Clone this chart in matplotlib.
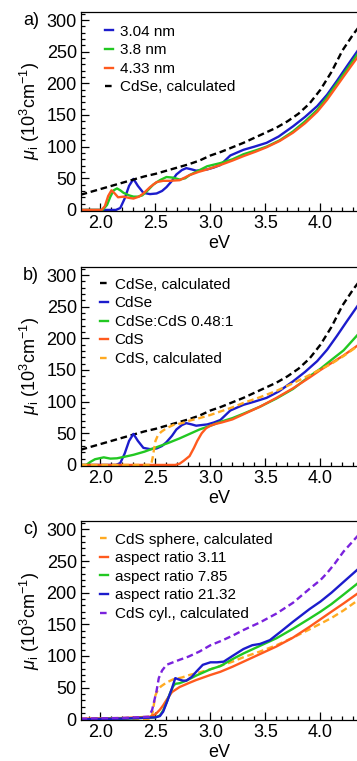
import numpy as np
import matplotlib
matplotlib.use('Agg')
import matplotlib.pyplot as plt
from matplotlib.ticker import MultipleLocator

plt.rcParams['font.family'] = ['Liberation Sans', 'DejaVu Sans']
plt.rcParams['mathtext.fontset'] = 'custom'
plt.rcParams['mathtext.rm'] = 'Liberation Sans'
plt.rcParams['mathtext.it'] = 'Liberation Sans:italic'

# --- data (eV, 10^3 cm^-1) ---
# CdSe calculated (panels a and b)
cdse_calc_x = [1.82, 1.9, 2.0, 2.1, 2.2, 2.3, 2.4, 2.5, 2.6, 2.7, 2.8, 2.9, 3.0, 3.1, 3.2, 3.3, 3.4,
               3.5, 3.6, 3.7, 3.8, 3.9, 4.0, 4.1, 4.2, 4.3, 4.34]
cdse_calc_y = [24, 28, 33, 38, 43, 48, 53, 57, 62, 67, 72, 78, 86, 92, 99, 106, 114,
               122, 130, 140, 152, 168, 190, 218, 252, 278, 287]

# 3.04 nm / CdSe (blue, panels a and b)
blue_x = [1.82, 2.14, 2.18, 2.22, 2.26, 2.30, 2.34, 2.39, 2.45, 2.51, 2.56, 2.60, 2.65, 2.69, 2.74,
          2.78, 2.83, 2.87, 2.92, 2.97, 3.03, 3.09, 3.18, 3.30, 3.40, 3.51, 3.62, 3.75, 3.86, 3.97,
          4.06, 4.15, 4.24, 4.34]
blue_y = [0, 0, 3, 18, 38, 49, 38, 27, 25, 26, 30, 36, 46, 56, 63,
          66, 64, 62, 63, 64, 67, 71, 86, 95, 100, 106, 116, 132, 147, 164,
          182, 204, 227, 252]

# 3.8 nm (green, panel a)
green_a_x = [1.82, 2.02, 2.06, 2.09, 2.12, 2.15, 2.18, 2.21, 2.26, 2.30, 2.34, 2.38, 2.43, 2.48,
             2.54, 2.60, 2.66, 2.72, 2.77, 2.81, 2.89, 2.97, 3.09, 3.2, 3.30, 3.41, 3.51, 3.63,
             3.75, 3.86, 3.97, 4.06, 4.15, 4.24, 4.34]
green_a_y = [0, 0, 8, 21, 31, 34, 31, 27, 23, 21, 21, 23, 31, 40,
             47, 52, 51, 48, 50, 55, 62, 69, 74, 80, 88, 94, 100, 110,
             124, 140, 158, 178, 200, 222, 247]

# 4.33 nm (orange, panel a)
orange_a_x = [1.82, 2.01, 2.04, 2.07, 2.10, 2.13, 2.16, 2.21, 2.26, 2.30, 2.35, 2.39, 2.45, 2.51,
              2.57, 2.63, 2.72, 2.81, 2.89, 2.97, 3.09, 3.2, 3.30, 3.41, 3.51, 3.63, 3.75, 3.86,
              3.97, 4.06, 4.15, 4.24, 4.34]
orange_a_y = [0, 0, 6, 22, 31, 26, 20, 21, 19, 18, 21, 26, 36, 44,
              46, 46, 47, 55, 60, 64, 71, 78, 85, 92, 99, 109, 122, 137,
              155, 174, 196, 218, 242]

# CdSe:CdS 0.48:1 (green, panel b)
mix_x = [1.82, 1.87, 1.91, 1.95, 2.03, 2.09, 2.15, 2.22, 2.30, 2.40, 2.51, 2.62, 2.72, 2.81, 2.90,
         3.0, 3.09, 3.2, 3.3, 3.45, 3.6, 3.75, 3.9, 4.0, 4.1, 4.21, 4.34]
mix_y = [0, 0, 5, 9, 12, 10, 10.5, 13, 16, 21, 28, 35, 42, 49, 56,
         62, 68, 74, 81, 92, 105, 120, 140, 152, 166, 181, 206]

# CdS (orange, panel b)
cds_x = [1.82, 2.68, 2.72, 2.76, 2.81, 2.85, 2.88, 2.92, 2.96, 3.0, 3.05, 3.1, 3.2, 3.3, 3.45,
         3.6, 3.75, 3.9, 4.0, 4.1, 4.21, 4.34]
cds_y = [0, 0, 2, 7, 14, 27, 38, 50, 58, 62, 65, 67, 72, 80, 92,
         106, 121, 138, 150, 161, 173, 189]

# CdS calculated / CdS sphere calculated (orange dashed, panels b and c)
cds_calc_x = [1.82, 2.46, 2.475, 2.49, 2.50, 2.52, 2.55, 2.60, 2.66, 2.74, 2.81, 2.9, 3.0, 3.1,
              3.2, 3.3, 3.45, 3.6, 3.75, 3.9, 4.0, 4.1, 4.21, 4.34]
cds_calc_y = [0, 0, 12, 28, 38, 46, 52, 58, 63, 66, 70, 74, 79, 85,
              91, 98, 107, 117, 129, 142, 151, 160, 172, 188]

# aspect ratio 3.11 (orange, panel c)
ar311_x = [1.82, 2.2, 2.45, 2.50, 2.54, 2.57, 2.61, 2.65, 2.72, 2.80, 2.87, 3.0, 3.09, 3.2, 3.3,
           3.45, 3.6, 3.75, 3.9, 4.0, 4.1, 4.21, 4.34]
ar311_y = [1, 2, 4, 8, 15, 22, 33, 43, 51, 57, 62, 70, 75, 83, 91,
           103, 115, 129, 146, 158, 170, 183, 199]

# aspect ratio 7.85 (green, panel c)
ar785_x = [1.82, 2.2, 2.50, 2.54, 2.57, 2.60, 2.63, 2.66, 2.68, 2.72, 2.78, 2.87, 3.0, 3.09, 3.2,
           3.3, 3.45, 3.6, 3.75, 3.9, 4.0, 4.1, 4.21, 4.34]
ar785_y = [0, 1, 3, 6, 14, 26, 40, 52, 56, 57, 61, 69, 79, 84, 95,
           104, 116, 128, 143, 159, 170, 182, 197, 215]

# aspect ratio 21.32 (blue, panel c)
ar2132_x = [1.82, 2.2, 2.50, 2.54, 2.57, 2.61, 2.65, 2.68, 2.71, 2.75, 2.78, 2.83, 2.87, 2.93, 3.0,
            3.06, 3.12, 3.2, 3.3, 3.38, 3.45, 3.54, 3.65, 3.75, 3.9, 4.0, 4.1, 4.21, 4.34]
ar2132_y = [0, 1, 3, 5, 12, 30, 49, 65, 63, 61, 61, 67, 75, 86, 90,
            90, 91, 100, 111, 117, 119, 125, 140, 154, 174, 186, 200, 217, 237]

# CdS cyl. calculated (purple dashed, panel c)
cyl_x = [1.82, 2.2, 2.44, 2.47, 2.49, 2.51, 2.53, 2.56, 2.60, 2.66, 2.72, 2.8, 2.9, 3.0, 3.1, 3.2,
         3.3, 3.45, 3.6, 3.75, 3.9, 4.0, 4.06, 4.13, 4.21, 4.34]
cyl_y = [1, 2, 4, 15, 30, 45, 65, 77, 86, 90, 94, 99, 107, 117, 124, 132,
         141, 153, 167, 184, 206, 220, 231, 246, 265, 290]

BLUE = '#1c1ccc'
GREEN = '#22c822'
ORANGE = '#ff5a1e'
LORANGE = '#ffaa22'
PURPLE = '#7a22dd'
DASH = (0, (2.8, 1.6))

fig = plt.figure(figsize=(3.57, 7.61), dpi=100)

# panel positions [left, bottom, width, height] in figure fractions
positions = [[0.2269, 0.7233, 0.7731, 0.2612],
             [0.2269, 0.3882, 0.7731, 0.2612],
             [0.2269, 0.0540, 0.7731, 0.2612]]

axes = [fig.add_axes(p) for p in positions]
ax_a, ax_b, ax_c = axes

lw = 1.7

# a) sizes
ax_a.plot(blue_x, blue_y, color=BLUE, lw=lw, label='3.04 nm')
ax_a.plot(green_a_x, green_a_y, color=GREEN, lw=lw, label='3.8 nm')
ax_a.plot(orange_a_x, orange_a_y, color=ORANGE, lw=lw, label='4.33 nm')
ax_a.plot(cdse_calc_x, cdse_calc_y, color='black', lw=lw, ls=DASH, label='CdSe, calculated')

# b) composition
ax_b.plot(cdse_calc_x, cdse_calc_y, color='black', lw=lw, ls=DASH, label='CdSe, calculated')
ax_b.plot(blue_x, blue_y, color=BLUE, lw=lw, label='CdSe')
ax_b.plot(mix_x, mix_y, color=GREEN, lw=lw, label='CdSe:CdS 0.48:1')
ax_b.plot(cds_x, cds_y, color=ORANGE, lw=lw, label='CdS')
ax_b.plot(cds_calc_x, cds_calc_y, color=LORANGE, lw=lw, ls=DASH, label='CdS, calculated')

# c) aspect ratio
ax_c.plot(cds_calc_x, cds_calc_y, color=LORANGE, lw=lw, ls=DASH, label='CdS sphere, calculated')
ax_c.plot(ar311_x, ar311_y, color=ORANGE, lw=lw, label='aspect ratio 3.11')
ax_c.plot(ar785_x, ar785_y, color=GREEN, lw=lw, label='aspect ratio 7.85')
ax_c.plot(ar2132_x, ar2132_y, color=BLUE, lw=lw, label='aspect ratio 21.32')
ax_c.plot(cyl_x, cyl_y, color=PURPLE, lw=lw, ls=DASH, label='CdS cyl., calculated')

legend_anchor = [(0.087, 0.935), (0.069, 0.945), (0.069, 0.942)]

for ax, tag, anchor in zip(axes, ['a)', 'b)', 'c)'], legend_anchor):
    ax.set_xlim(1.823, 4.332)
    ax.set_ylim(-1, 313)
    ax.xaxis.set_major_locator(MultipleLocator(0.5))
    ax.xaxis.set_minor_locator(MultipleLocator(0.1))
    ax.yaxis.set_major_locator(MultipleLocator(50))
    ax.yaxis.set_minor_locator(MultipleLocator(10))
    ax.tick_params(which='both', direction='in', labelsize=13, width=0.9)
    ax.tick_params(which='major', length=6, pad=3)
    ax.tick_params(which='minor', length=3)
    ax.spines['right'].set_visible(False)
    for s in ['left', 'bottom', 'top']:
        ax.spines[s].set_linewidth(0.9)
    ax.set_xlabel('eV', fontsize=13, labelpad=2)
    ax.set_ylabel(r'$\mu_\mathrm{i}$ (10$^3$cm$^{-1}$)', fontsize=13, labelpad=3)
    ax.text(-0.21, 0.958, tag, transform=ax.transAxes, fontsize=13, ha='left', va='center')
    ax.legend(loc='upper left', bbox_to_anchor=anchor, frameon=False, fontsize=11,
              handlelength=0.5, handletextpad=0.45, labelspacing=0.3, borderpad=0,
              borderaxespad=0)

plt.savefig('out.png', dpi=100)
